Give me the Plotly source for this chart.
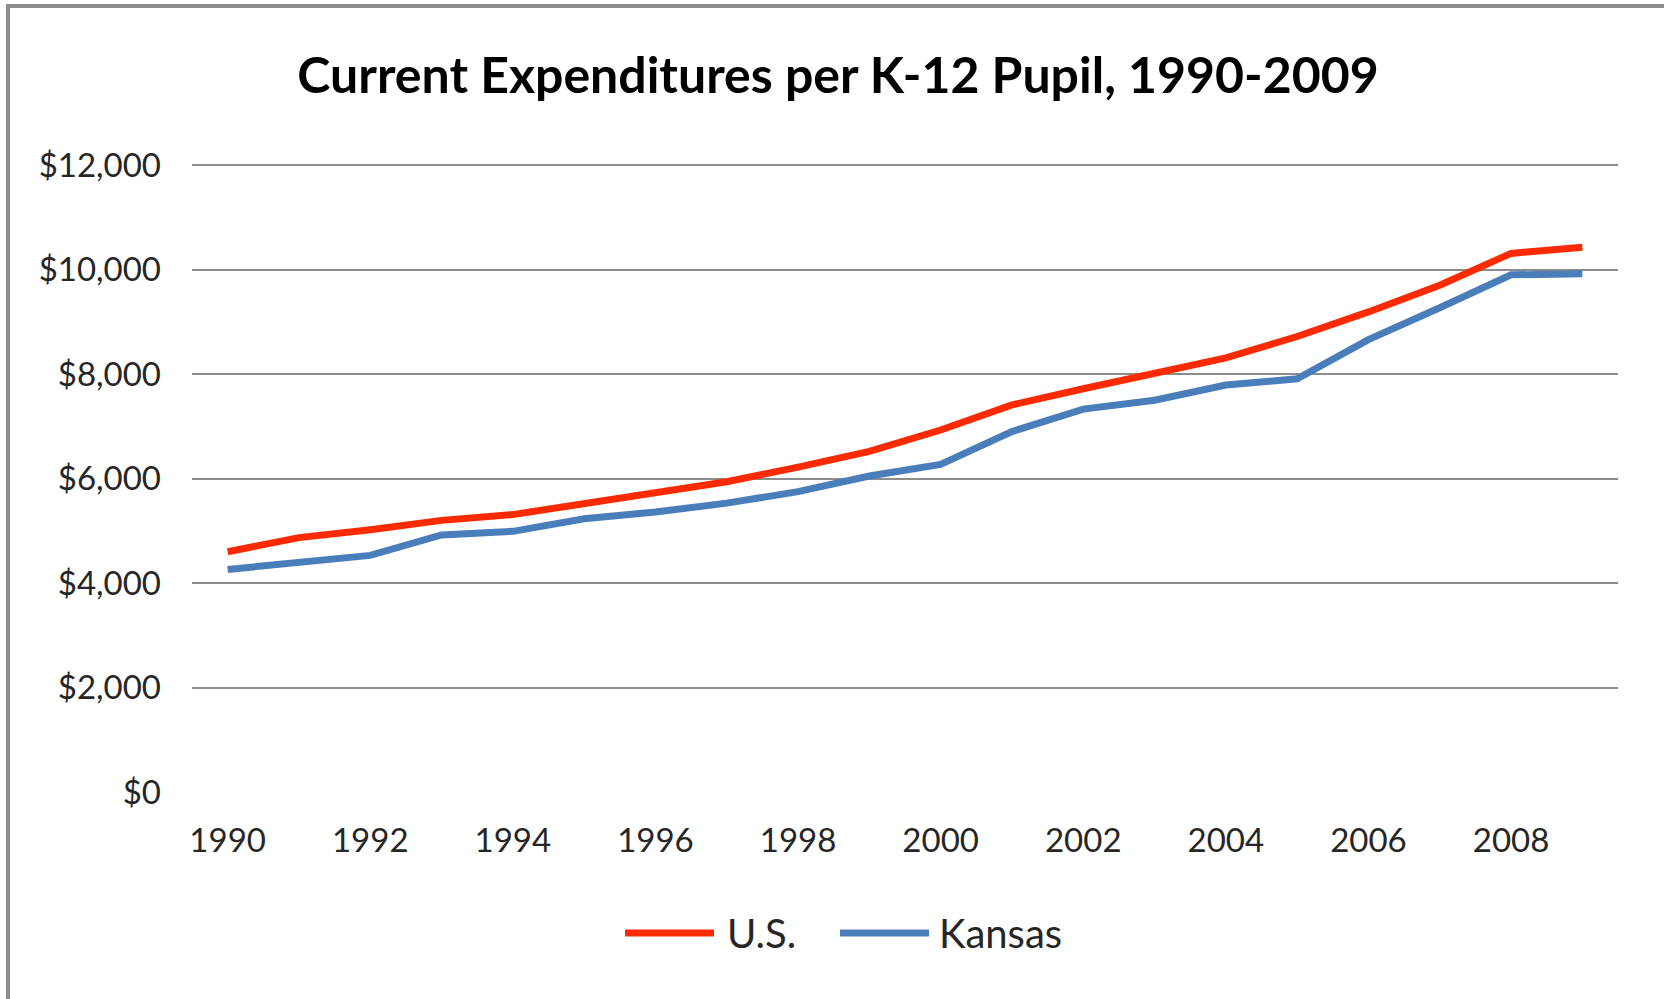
import plotly.graph_objects as go

years = list(range(1990, 2010))
us = [4600, 4870, 5020, 5200, 5310, 5530, 5720, 5940, 6220, 6520,
      6930, 7410, 7720, 8000, 8310, 8720, 9190, 9700, 10310, 10430]
kansas = [4260, 4400, 4530, 4920, 4990, 5230, 5360, 5530, 5750, 6050,
          6270, 6900, 7330, 7500, 7790, 7910, 8660, 9270, 9900, 9920]
y_ticks = [0, 2000, 4000, 6000, 8000, 10000, 12000]
y_tick_labels = ["$0", "$2,000", "$4,000", "$6,000", "$8,000", "$10,000", "$12,000"]
x_ticks = list(range(1990, 2010, 2))

RED = "#FF2A00"
BLUE = "#4A7EBB"
FONT = "Lato"
TXT = "#262626"

W, H = 1664, 999
L, R, T, B = 192, 46, 162, 207
pw, ph = W - L - R, H - T - B

def px(x):
    return (x - L) / pw

def py(y):
    return (H - B - y) / ph

fig = go.Figure()
fig.add_trace(go.Scatter(x=years, y=us, mode="lines", name="U.S.",
                         line=dict(color=RED, width=7), showlegend=False))
fig.add_trace(go.Scatter(x=years, y=kansas, mode="lines", name="Kansas",
                         line=dict(color=BLUE, width=7), showlegend=False))

shapes = [
    # outer frame
    dict(type="rect", xref="paper", yref="paper",
         x0=px(8), x1=px(W + 20), y0=py(6), y1=py(H + 20),
         line=dict(color="#8C8C8C", width=4), fillcolor="rgba(0,0,0,0)", layer="below"),
    # legend samples
    dict(type="line", xref="paper", yref="paper", x0=px(625), x1=px(714),
         y0=py(933), y1=py(933), line=dict(color=RED, width=7)),
    dict(type="line", xref="paper", yref="paper", x0=px(840), x1=px(929),
         y0=py(933), y1=py(933), line=dict(color=BLUE, width=7)),
]
annotations = [
    dict(text="U.S.", xref="paper", yref="paper", x=px(725), y=py(933),
         xanchor="left", yanchor="middle", showarrow=False,
         font=dict(family=FONT, size=40, color=TXT)),
    dict(text="Kansas", xref="paper", yref="paper", x=px(937), y=py(933),
         xanchor="left", yanchor="middle", showarrow=False,
         font=dict(family=FONT, size=40, color=TXT)),
]

fig.update_layout(
    width=W, height=H,
    margin=dict(l=L, r=R, t=T, b=B),
    paper_bgcolor="white", plot_bgcolor="white",
    title=dict(text="<b>Current Expenditures per K-12 Pupil, 1990-2009</b>",
               x=838 / W, xanchor="center", y=1 - 75 / H, yanchor="middle",
               font=dict(family=FONT, size=50, color="black")),
    xaxis=dict(range=[1989.5, 2009.5], tickmode="array", tickvals=x_ticks,
               ticktext=[str(v) for v in x_ticks], showgrid=False, zeroline=False,
               showline=False, ticks="", ticklabelstandoff=26,
               tickfont=dict(family=FONT, size=33, color=TXT)),
    yaxis=dict(range=[0, 12060], tickmode="array", tickvals=y_ticks,
               ticktext=y_tick_labels, showgrid=True, gridcolor="#8C8C8C",
               gridwidth=2, zeroline=False, showline=False, ticks="",
               ticklabelstandoff=30,
               tickfont=dict(family=FONT, size=33, color=TXT)),
    shapes=shapes, annotations=annotations,
)

fig.write_html("out.html", config={"displayModeBar": False},
               post_script="document.body.style.margin='0px';document.body.style.overflow='hidden';")
